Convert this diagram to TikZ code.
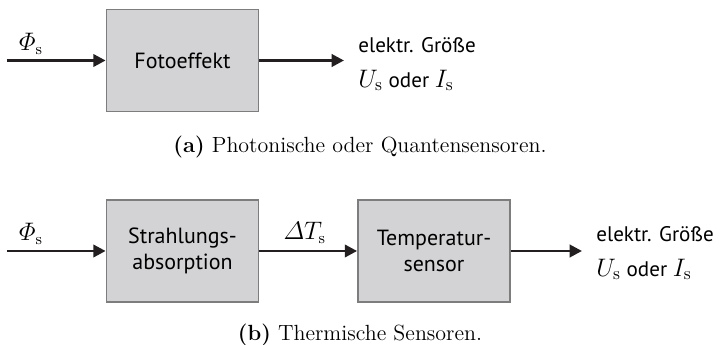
\documentclass[tikz,border=0pt]{standalone}
\usepackage{amsmath}
\usepackage[no-math]{fontspec}
\setsansfont{PT Sans}
\usetikzlibrary{arrows.meta}
\definecolor{blockgray}{RGB}{211,211,213}
\definecolor{blockedge}{RGB}{125,125,125}
\definecolor{ink}{RGB}{35,31,32}

\begin{document}
\begin{tikzpicture}[x=1cm, y=1cm,
    block/.style={draw=blockedge, line width=1pt, fill=blockgray,
      minimum width=3.04cm, minimum height=2.04cm, align=center,
      font=\sffamily\fontsize{12.5}{15}\selectfont},
    signal/.style={draw=ink, line width=1.6pt, -{Triangle[length=7pt,width=7pt]}},
    outtext/.style={anchor=west, align=left, inner xsep=8pt,
      font=\sffamily\fontsize{12}{18}\selectfont},
    quantity/.style={font=\fontsize{13.5}{15}\selectfont},
    caption/.style={anchor=base, font=\rmfamily\fontsize{12.5}{14}\selectfont}]
  \useasboundingbox (0,0) rectangle (14.42,6.9);
  % (a) photonic sensors
  \coordinate (ina) at (0.14,5.69);
  \node[block] (foto) at (3.65,5.69) {Fotoeffekt};
  \node[outtext] (outa) at (6.88,5.62) {elektr. Größe\\[2pt]{\fontsize{14}{15}\selectfont$U_\mathrm{s}$} oder {\fontsize{14}{15}\selectfont$I_\mathrm{s}$}};
  \node[quantity] (phia) at (0.62,6.02) {$\varPhi_\mathrm{s}$};
  \draw[signal] (ina) -- (foto);
  \draw[signal] (foto) -- (foto -| outa.west);
  \node[caption] (capa) at (7.2,3.84) {\textbf{(a)} Photonische oder Quantensensoren.};
  % (b) thermal sensors
  \coordinate (inb) at (0.14,1.88);
  \node[block] (absorp) at (3.65,1.88) {Strahlungs-\\absorption};
  \node[block] (temp) at (8.68,1.88) {Temperatur-\\sensor};
  \node[outtext] (outb) at (11.64,1.84) {elektr. Größe\\[2pt]{\fontsize{14}{15}\selectfont$U_\mathrm{s}$} oder {\fontsize{14}{15}\selectfont$I_\mathrm{s}$}};
  \node[quantity] (phib) at (0.62,2.22) {$\varPhi_\mathrm{s}$};
  \draw[signal] (inb) -- (absorp);
  \draw[signal] (absorp) -- node[quantity, above, xshift=-2pt] (dtb) {$\varDelta T_\mathrm{s}$} (temp);
  \draw[signal] (temp) -- (temp -| outb.west);
  \node[caption] (capb) at (7.2,0.08) {\textbf{(b)} Thermische Sensoren.};
\end{tikzpicture}
\end{document}
